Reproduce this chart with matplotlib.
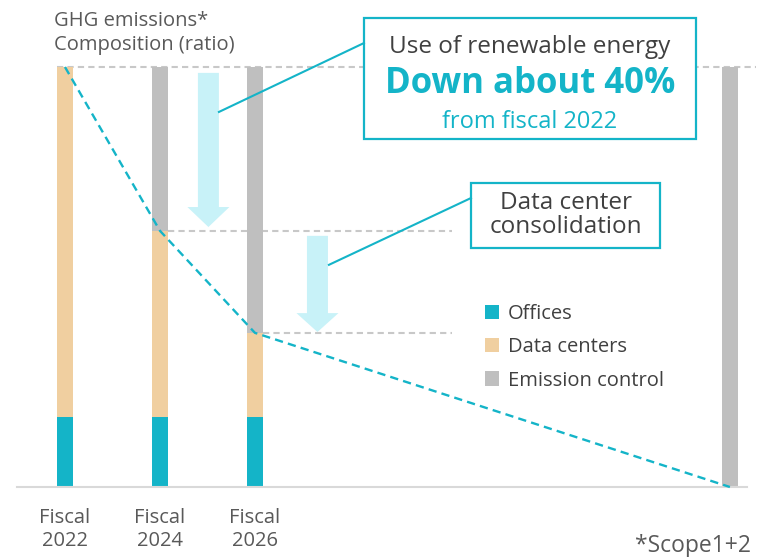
import numpy as np
import matplotlib.pyplot as plt
from matplotlib import patches

plt.rcParams['font.family'] = ['Open Sans', 'DejaVu Sans']

# Data (composition ratio, fiscal 2022 total = 100)
positions = [0, 1, 2, 7]
tick_labels = ['Fiscal\n2022', 'Fiscal\n2024', 'Fiscal\n2026']
offices = [16.7, 16.7, 16.7, 0.0]
data_centers = [83.3, 44.3, 20.0, 0.0]
emission_control = [0.0, 39.0, 63.3, 100.0]
series_names = ['Offices', 'Data centers', 'Emission control']

TEAL = '#14b4c8'
TAN = '#f0cfa0'
GRAY = '#bfbfbf'
LIGHT = '#c8f2f8'
TXT = '#595959'

fig = plt.figure(figsize=(7.57, 5.57), dpi=100)
W, H = 757, 557
ax = fig.add_axes([17 / W, (H - 487) / H, 730 / W, 420 / H])
ax.set_xlim(-0.505, 7.18)
ax.set_ylim(0, 100)

pos = np.array(positions, dtype=float)
off = np.array(offices)
dc = np.array(data_centers)
em = np.array(emission_control)
bw = 0.168

b1 = ax.bar(pos, off, bw, color=TEAL, label=series_names[0], zorder=2)
b2 = ax.bar(pos, dc, bw, bottom=off, color=TAN, label=series_names[1], zorder=2)
b3 = ax.bar(pos, em, bw, bottom=off + dc, color=GRAY, label=series_names[2], zorder=2)

# trend line through the tops of offices + data centers
tops = off + dc
ax.plot(pos, tops, color=TEAL, lw=1.7, dashes=(3.5, 2.2), zorder=4, clip_on=False)

# reference dashed lines
ax.plot([pos[0] - bw / 2, 7.28], [100, 100], color='#c8c8c8', lw=1.5,
        dashes=(3, 2), zorder=1, clip_on=False)
for i in (1, 2):
    ax.plot([pos[i] + bw / 2, 4.07], [tops[i], tops[i]], color='#c8c8c8',
            lw=1.5, dashes=(3, 2), zorder=1)

# arrows
ax.add_patch(patches.FancyArrow(1.51, 98.6, 0, 61.9 - 98.6, width=0.221,
                                head_width=0.442, head_length=4.76,
                                length_includes_head=True, color=LIGHT,
                                lw=0, zorder=1))
ax.add_patch(patches.FancyArrow(2.658, 59.8, 0, 36.9 - 59.8, width=0.221,
                                head_width=0.442, head_length=4.5,
                                length_includes_head=True, color=LIGHT,
                                lw=0, zorder=1))

# callout boxes
ax.add_patch(patches.Rectangle((3.147, 82.9), 6.642 - 3.147, 111.7 - 82.9,
                               fill=True, fc='white', ec=TEAL, lw=1.6,
                               clip_on=False, zorder=5))
ax.plot([1.621, 3.147], [89.3, 105.7], color=TEAL, lw=1.5, clip_on=False, zorder=5)
ax.text(4.895, 104.8, 'Use of renewable energy', ha='center', va='center',
        fontsize=17.5, color='#404040', zorder=6)
ax.text(4.895, 96.0, 'Down about 40%', ha='center', va='center',
        fontsize=25, fontweight='bold', color=TEAL, zorder=6)
ax.text(4.895, 86.9, 'from fiscal 2022', ha='center', va='center',
        fontsize=17, color=TEAL, zorder=6)

ax.add_patch(patches.Rectangle((4.274, 56.9), 6.263 - 4.274, 72.4 - 56.9,
                               fill=True, fc='white', ec=TEAL, lw=1.6,
                               clip_on=False, zorder=5))
ax.plot([2.779, 4.274], [52.9, 68.8], color=TEAL, lw=1.5, zorder=5)
ax.text(5.27, 64.8, 'Data center\nconsolidation', ha='center', va='center',
        fontsize=17.5, color='#404040', linespacing=1.0, zorder=6)

# axes styling
for s in ('top', 'right', 'left'):
    ax.spines[s].set_visible(False)
ax.spines['bottom'].set_color('#d9d9d9')
ax.spines['bottom'].set_linewidth(1.5)
ax.set_yticks([])
ax.set_xticks(pos[:3])
ax.set_xticklabels(tick_labels, fontsize=14.5, color=TXT, linespacing=1.2)
ax.tick_params(axis='x', length=0, pad=15)

leg = ax.legend(handles=[b1, b2, b3], loc='upper left', frameon=False,
                bbox_to_anchor=(485 / W, 1 - 304 / H),
                bbox_transform=fig.transFigure, fontsize=14.5,
                handlelength=0.7, handleheight=0.7, handletextpad=0.45,
                labelspacing=0.66, borderpad=0, borderaxespad=0)
for t in leg.get_texts():
    t.set_color('#404040')

fig.text(54 / W, 1 - 33 / H, 'GHG emissions*\nComposition (ratio)', ha='left',
         va='center', fontsize=14.5, color=TXT, linespacing=1.3)
fig.text(751 / W, 1 - 546 / H, '*Scope1+2', ha='right', va='center',
         fontsize=16.5, color=TXT)

fig.savefig('out.png', dpi=100)
